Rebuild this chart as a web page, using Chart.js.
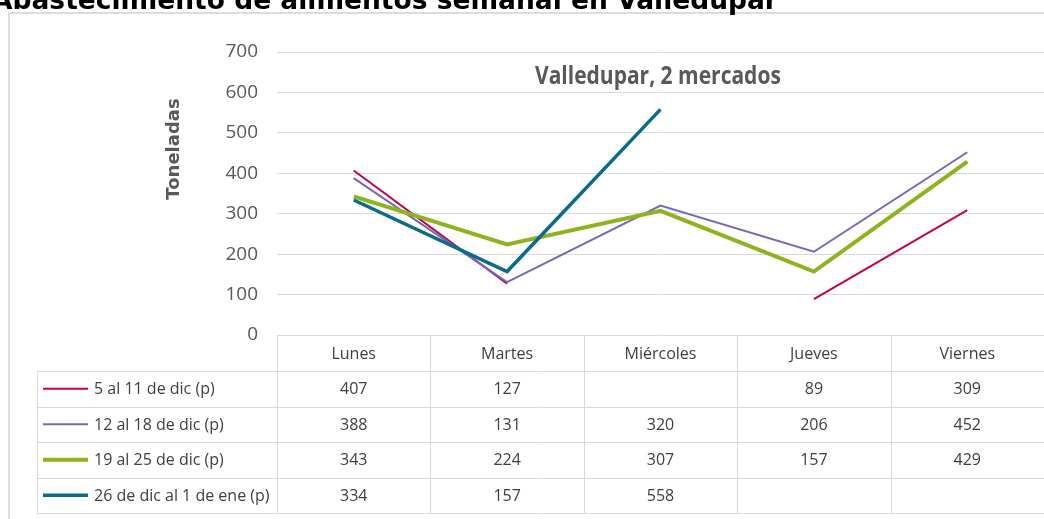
<!DOCTYPE html>
<html>
<head>
<meta charset="utf-8">
<script src="https://cdn.jsdelivr.net/npm/chart.js@4"></script>
<style>
  html, body { margin: 0; padding: 0; background: #ffffff; }
  #wrap { position: relative; width: 1044px; height: 519px; overflow: hidden; }
  canvas { display: block; }
</style>
</head>
<body>
<div id="wrap"><canvas id="c" width="1044" height="519"></canvas></div>
<script>
// ---- data ----
const pageTitle = 'Abastecimiento de alimentos semanal en Valledupar';
const chartSubtitle = 'Valledupar, 2 mercados';
const yAxisTitle = 'Toneladas';
const categories = ['Lunes', 'Martes', 'Miércoles', 'Jueves', 'Viernes'];
const seriesNames = ['5 al 11 de dic (p)', '12 al 18 de dic (p)', '19 al 25 de dic (p)', '26 de dic al 1 de ene (p)'];
const week1 = [407, 127, null, 89, 309];
const week2 = [388, 131, 320, 206, 452];
const week3 = [343, 224, 307, 157, 429];
const week4 = [334, 157, 558, null, null];
const yMin = 0, yMax = 700, yStep = 100;

// ---- styles ----
const seriesValues = [week1, week2, week3, week4];
const seriesColors = ['#C5004F', '#7468B8', '#8DB31D', '#0A6C8C'];
const seriesWidths = [2, 2, 4, 3.5];
const NARROW = "'Liberation Sans Narrow', 'Arial Narrow', 'Open Sans', sans-serif";
const gridColor = '#d9d9d9';

const datasets = seriesNames.map((name, i) => ({
  label: name,
  data: seriesValues[i],
  borderColor: seriesColors[i],
  backgroundColor: seriesColors[i],
  borderWidth: seriesWidths[i],
  pointRadius: 0,
  pointHoverRadius: 0,
  tension: 0,
  spanGaps: false,
  fill: false,
  order: seriesNames.length - i
}));

const decor = {
  id: 'decor',
  beforeDraw(chart) {
    const ctx = chart.ctx;
    ctx.save();
    ctx.strokeStyle = '#dcdcdc';
    ctx.lineWidth = 2;
    ctx.beginPath();
    ctx.moveTo(9, 600); ctx.lineTo(9, 13); ctx.lineTo(1100, 13);
    ctx.stroke();
    ctx.restore();
  },
  afterDraw(chart) {
    const ctx = chart.ctx;
    const area = chart.chartArea;
    const xs = chart.scales.x;
    const colW = (area.right - area.left) / categories.length;
    const headTop = Math.round(area.bottom);
    const headBottom = 371;
    const rowH = 35.5;
    const tableLeft = 37;
    const rowsBottom = headBottom + rowH * seriesNames.length;
    const crisp = v => Math.round(v) + 0.5;

    ctx.save();
    // table grid
    ctx.strokeStyle = gridColor;
    ctx.lineWidth = 1;
    ctx.beginPath();
    for (let r = 0; r <= seriesNames.length; r++) {
      const y = crisp(headBottom + r * rowH);
      ctx.moveTo(tableLeft, y); ctx.lineTo(area.right, y);
    }
    ctx.moveTo(crisp(tableLeft), headBottom); ctx.lineTo(crisp(tableLeft), crisp(rowsBottom));
    for (let i = 0; i < categories.length; i++) {
      const xb = crisp(xs.getPixelForValue(i) - colW / 2);
      ctx.moveTo(xb, headTop); ctx.lineTo(xb, crisp(rowsBottom));
    }
    ctx.stroke();

    // header labels
    ctx.fillStyle = '#404040';
    ctx.font = '16px ' + NARROW;
    ctx.textAlign = 'center';
    ctx.textBaseline = 'middle';
    categories.forEach((c, i) => {
      ctx.fillText(c, xs.getPixelForValue(i), (headTop + headBottom) / 2 + 1);
    });

    // rows
    seriesNames.forEach((name, r) => {
      const cy = headBottom + rowH * (r + 0.5);
      ctx.strokeStyle = seriesColors[r];
      ctx.lineWidth = seriesWidths[r];
      ctx.beginPath();
      ctx.moveTo(43, cy); ctx.lineTo(88, cy);
      ctx.stroke();
      ctx.fillStyle = '#404040';
      ctx.textAlign = 'left';
      ctx.fillText(name, 94, cy + 1);
      ctx.textAlign = 'center';
      seriesValues[r].forEach((v, i) => {
        if (v !== null && v !== undefined) ctx.fillText(String(v), xs.getPixelForValue(i), cy + 1);
      });
    });

    // subtitle inside plot (condensed look)
    ctx.save();
    ctx.fillStyle = '#595959';
    ctx.font = 'bold 25px ' + NARROW;
    ctx.textAlign = 'left';
    ctx.textBaseline = 'alphabetic';
    ctx.translate(535, 84);
    ctx.scale(0.84, 1);
    ctx.fillText(chartSubtitle, 0, 0);
    ctx.restore();

    // y axis title
    ctx.save();
    ctx.fillStyle = '#595959';
    ctx.translate(174, 149);
    ctx.rotate(-Math.PI / 2);
    ctx.font = 'bold 18px "DejaVu Sans", sans-serif';
    ctx.textAlign = 'center';
    ctx.textBaseline = 'middle';
    ctx.fillText(yAxisTitle, 0, 0);
    ctx.restore();

    // page title (cut at top)
    ctx.fillStyle = '#000000';
    ctx.font = 'bold 26.5px "DejaVu Sans", sans-serif';
    ctx.textAlign = 'left';
    ctx.textBaseline = 'alphabetic';
    ctx.fillText(pageTitle, -8, 9);
    ctx.restore();
  }
};

new Chart(document.getElementById('c'), {
  type: 'line',
  data: { labels: categories, datasets },
  options: {
    responsive: false,
    animation: false,
    devicePixelRatio: 1,
    layout: { padding: { top: 52, left: 0, right: 0, bottom: 0 } },
    plugins: { legend: { display: false }, tooltip: { enabled: false }, title: { display: false } },
    scales: {
      x: {
        type: 'category',
        offset: true,
        grid: { display: false, drawTicks: false },
        border: { display: false },
        ticks: { display: false },
        afterFit(s) { s.height = 519 - 335; }
      },
      y: {
        min: yMin, max: yMax,
        ticks: { stepSize: yStep, color: '#595959', padding: 19, font: { family: NARROW, size: 19 } },
        grid: { color: gridColor, lineWidth: 1, drawTicks: false },
        border: { display: false },
        afterFit(s) { s.width = 277; }
      }
    }
  },
  plugins: [decor]
});
</script>
</body>
</html>
